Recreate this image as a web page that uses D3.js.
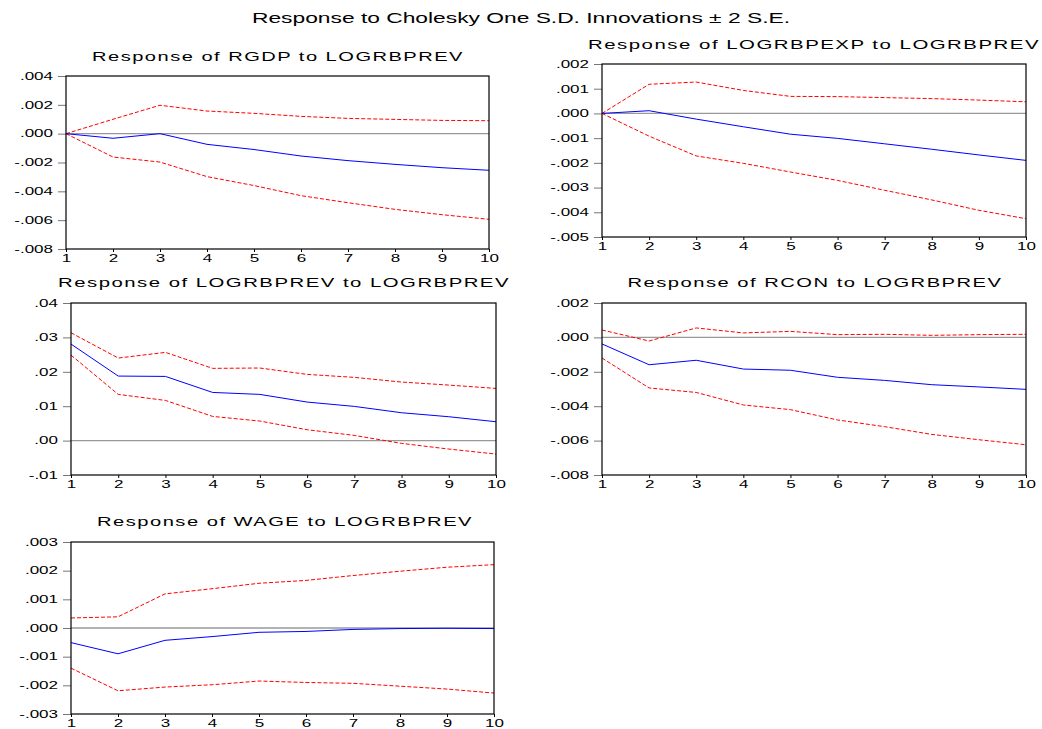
<!DOCTYPE html>
<html>
<head>
<meta charset="utf-8">
<script src="https://cdn.jsdelivr.net/npm/d3@7"></script>
<style>
  body { margin: 0; background: #fff; }
  svg { display: block; font-family: "Liberation Sans", Arial, sans-serif; }
</style>
</head>
<body>
<svg id="chart" width="1042" height="729"></svg>
<script>
// impulse response horizons
const periods = [1, 2, 3, 4, 5, 6, 7, 8, 9, 10];

const mainTitle = "Response to Cholesky One S.D. Innovations \u00b1 2 S.E.";

const titles = [
  "Response of RGDP to LOGRBPREV",
  "Response of LOGRBPEXP to LOGRBPREV",
  "Response of LOGRBPREV to LOGRBPREV",
  "Response of RCON to LOGRBPREV",
  "Response of WAGE to LOGRBPREV"
];

// y axis ranges and tick labels per panel
const yDomains = [[-0.008, 0.004], [-0.005, 0.002], [-0.01, 0.04], [-0.008, 0.002], [-0.003, 0.003]];
const yTicks = [
  [-0.008, -0.006, -0.004, -0.002, 0, 0.002, 0.004],
  [-0.005, -0.004, -0.003, -0.002, -0.001, 0, 0.001, 0.002],
  [-0.01, 0, 0.01, 0.02, 0.03, 0.04],
  [-0.008, -0.006, -0.004, -0.002, 0, 0.002],
  [-0.003, -0.002, -0.001, 0, 0.001, 0.002, 0.003]
];
const yDecimals = [3, 3, 2, 3, 3];

// responses (blue) and +/- 2 S.E. bands (red dashed)
const rgdp      = [0, -0.00032, 0, -0.00074, -0.0011, -0.00155, -0.00187, -0.00213, -0.00236, -0.00254];
const rgdpUp    = [0, 0.001, 0.00197, 0.00157, 0.00141, 0.0012, 0.00106, 0.00099, 0.00092, 0.0009];
const rgdpLo    = [0, -0.00162, -0.00197, -0.00298, -0.0036, -0.0043, -0.00479, -0.00525, -0.00562, -0.00594];

const expd      = [0, 0.00011, -0.00023, -0.00054, -0.00084, -0.00101, -0.00123, -0.00145, -0.00168, -0.0019];
const expdUp    = [0, 0.00118, 0.00127, 0.00093, 0.00069, 0.00068, 0.00064, 0.0006, 0.00054, 0.00047];
const expdLo    = [0, -0.00092, -0.00172, -0.00202, -0.00237, -0.00271, -0.00311, -0.0035, -0.00392, -0.00426];

const rev       = [0.02806, 0.01876, 0.01866, 0.014, 0.01343, 0.0112, 0.00994, 0.0081, 0.00694, 0.00548];
const revUp     = [0.03134, 0.024, 0.02564, 0.021, 0.0211, 0.01925, 0.01838, 0.01702, 0.01614, 0.01517];
const revLo     = [0.02486, 0.01343, 0.01168, 0.00703, 0.00568, 0.00316, 0.00151, -0.00081, -0.00246, -0.00391];

const rcon      = [-0.00038, -0.00159, -0.00133, -0.00184, -0.00191, -0.00232, -0.0025, -0.00275, -0.00288, -0.00302];
const rconUp    = [0.00043, -0.00021, 0.00055, 0.00026, 0.00035, 0.00016, 0.00018, 0.00012, 0.00016, 0.00018];
const rconLo    = [-0.0012, -0.00294, -0.0032, -0.00393, -0.0042, -0.0048, -0.00519, -0.00564, -0.00595, -0.00624];

const wage      = [-0.00051, -0.0009, -0.00043, -0.0003, -0.00015, -0.00012, -0.00005, -0.00002, -0.00001, -0.00002];
const wageUp    = [0.00035, 0.00039, 0.00119, 0.00137, 0.00156, 0.00166, 0.00183, 0.00198, 0.00212, 0.00221];
const wageLo    = [-0.0014, -0.00219, -0.00206, -0.00198, -0.00185, -0.0019, -0.00193, -0.00203, -0.00213, -0.00227];

const responses = [rgdp, expd, rev, rcon, wage];
const upper = [rgdpUp, expdUp, revUp, rconUp, wageUp];
const lower = [rgdpLo, expdLo, revLo, rconLo, wageLo];

// plot frames: left, top, right, bottom, title centre / baseline / width
const frames = [
  { l: 66,  t: 76,  r: 489,  b: 249, tx: 278, ty: 61,  tw: 372 },
  { l: 602, t: 64,  r: 1026, b: 237, tx: 814, ty: 49,  tw: 452 },
  { l: 71,  t: 303, r: 496,  b: 475, tx: 284, ty: 287, tw: 452 },
  { l: 602, t: 303, r: 1026, b: 475, tx: 815, ty: 287, tw: 375 },
  { l: 71,  t: 542, r: 494,  b: 714, tx: 285, ty: 526, tw: 376 }
];

const stretch = 1.65; // the source image is wide-stretched

const fmt = (dec) => (v) => {
  if (v === 0) return "." + "0".repeat(dec);
  return (v < 0 ? "-" : "") + Math.abs(v).toFixed(dec).replace(/^0/, "");
};

const svg = d3.select("#chart");

svg.append("text")
  .attr("x", 521)
  .attr("y", 23)
  .attr("text-anchor", "middle")
  .attr("font-size", "14px")
  .attr("textLength", 538)
  .attr("lengthAdjust", "spacingAndGlyphs")
  .text(mainTitle);

function widen(sel) {
  sel.each(function () {
    const w = this.getComputedTextLength();
    d3.select(this)
      .attr("textLength", w * stretch)
      .attr("lengthAdjust", "spacingAndGlyphs");
  });
}

titles.forEach((title, i) => {
  const f = frames[i];
  const g = svg.append("g");

  const x = d3.scaleLinear().domain([1, 10]).range([f.l, f.r]);
  const y = d3.scaleLinear().domain(yDomains[i]).range([f.b, f.t]);

  g.append("text")
    .attr("x", f.tx)
    .attr("y", f.ty)
    .attr("text-anchor", "middle")
    .attr("font-size", "13.5px")
    .attr("letter-spacing", "1px")
    .attr("textLength", f.tw)
    .attr("lengthAdjust", "spacingAndGlyphs")
    .text(title);

  // zero line
  g.append("line")
    .attr("x1", f.l).attr("x2", f.r)
    .attr("y1", y(0)).attr("y2", y(0))
    .attr("stroke", "#999")
    .attr("stroke-width", 1.3);

  const yAxis = g.append("g")
    .attr("transform", `translate(${f.l},0)`)
    .call(d3.axisLeft(y).tickValues(yTicks[i]).tickFormat(fmt(yDecimals[i])).tickSize(8).tickPadding(5));
  yAxis.select(".domain").remove();
  yAxis.selectAll("line").attr("stroke", "#777");
  yAxis.selectAll("text").attr("font-size", "10.3px").attr("fill", "#000").call(widen);

  const xAxis = g.append("g")
    .attr("transform", `translate(0,${f.b})`)
    .call(d3.axisBottom(x).tickValues(periods).tickFormat(d3.format("d")).tickSize(3).tickPadding(3));
  xAxis.select(".domain").remove();
  xAxis.selectAll("text").attr("font-size", "10.3px").attr("fill", "#000").call(widen);

  const line = d3.line().x((d, k) => x(periods[k])).y((d) => y(d));

  [upper[i], lower[i]].forEach((band) => {
    g.append("path")
      .datum(band)
      .attr("d", line)
      .attr("fill", "none")
      .attr("stroke", "#ff0000")
      .attr("stroke-width", 1)
      .attr("stroke-dasharray", "4,2");
  });

  g.append("path")
    .datum(responses[i])
    .attr("d", line)
    .attr("fill", "none")
    .attr("stroke", "#0000ff")
    .attr("stroke-width", 1);

  g.append("rect")
    .attr("x", f.l).attr("y", f.t)
    .attr("width", f.r - f.l).attr("height", f.b - f.t)
    .attr("fill", "none")
    .attr("stroke", "#000")
    .attr("stroke-width", 1.2);
});
</script>
</body>
</html>
